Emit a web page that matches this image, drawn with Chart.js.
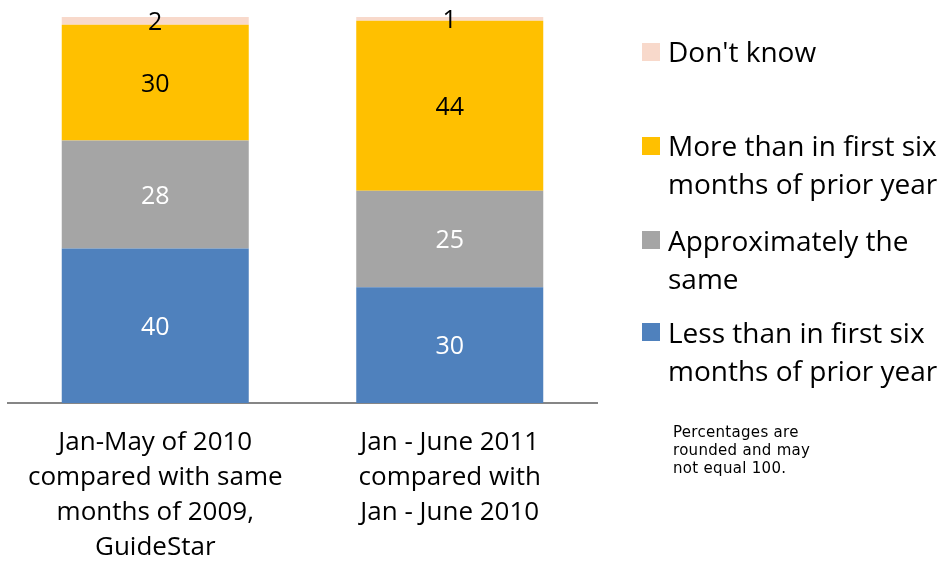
<!DOCTYPE html>
<html>
<head>
<meta charset="utf-8">
<script src="https://cdn.jsdelivr.net/npm/chart.js@4"></script>
<style>
  body { margin: 0; background: #fff; }
  #wrap { position: relative; width: 942px; height: 562px; font-family: "Open Sans", sans-serif; }
  canvas { position: absolute; left: 0; top: 0; }
  .key { position: absolute; left: 642px; width: 18px; height: 18px; }
  .txt { position: absolute; left: 668px; font-size: 28px; line-height: 38px; color: #000; white-space: nowrap; }
  .note { position: absolute; left: 673px; top: 423px; font-family: "DejaVu Sans", Verdana, sans-serif; font-size: 15px; letter-spacing: 0.3px; line-height: 18px; color: #000; white-space: nowrap; }
</style>
</head>
<body>
<div id="wrap">
  <canvas id="chart" width="942" height="562"></canvas>
  <div id="legend"></div>
  <div class="note">Percentages are<br>rounded and may<br>not equal 100.</div>
</div>
<script>
const categories = [
  ['Jan-May of 2010', 'compared with same', 'months of 2009,', 'GuideStar'],
  ['Jan - June 2011', 'compared with', 'Jan - June 2010']
];
const seriesNames = ['Less than in first six months of prior year', 'Approximately the same', 'More than in first six months of prior year', "Don't know"];
const lessValues = [40, 30];
const sameValues = [28, 25];
const moreValues = [30, 44];
const dontKnowValues = [2, 1];

const colors = ['#4F81BD', '#A5A5A5', '#FFC000', '#F8D9CB'];
const labelColors = ['#fff', '#fff', '#000', '#000'];
const font = '"Open Sans", sans-serif';

const valueLabels = {
  id: 'valueLabels',
  afterDatasetsDraw(chart) {
    const ctx = chart.ctx;
    ctx.save();
    ctx.font = '25px ' + font;
    ctx.textAlign = 'center';
    ctx.textBaseline = 'middle';
    chart.data.datasets.forEach((ds, i) => {
      chart.getDatasetMeta(i).data.forEach((bar, j) => {
        const p = bar.getProps(['x', 'y', 'base'], true);
        ctx.fillStyle = labelColors[i];
        ctx.fillText(ds.data[j], p.x, (p.y + p.base) / 2 + 2);
      });
    });
    ctx.restore();
  }
};

new Chart(document.getElementById('chart'), {
  type: 'bar',
  data: {
    labels: categories,
    datasets: [lessValues, sameValues, moreValues, dontKnowValues].map((d, i) => ({
      label: seriesNames[i],
      data: d,
      backgroundColor: colors[i],
      barPercentage: 0.635,
      categoryPercentage: 1
    }))
  },
  options: {
    responsive: false,
    animation: false,
    layout: { padding: { left: 8, right: 345, top: 17, bottom: 0 } },
    plugins: { legend: { display: false }, tooltip: { enabled: false } },
    scales: {
      x: {
        stacked: true,
        grid: { display: false, drawTicks: false },
        border: { color: '#868686', width: 2 },
        ticks: { color: '#000', font: { family: font, size: 26, lineHeight: '35px' }, padding: 22, maxRotation: 0 },
        afterFit(scale) { scale.height = 159; }
      },
      y: { stacked: true, display: false, min: 0, max: 100 }
    }
  },
  plugins: [valueLabels]
});

// legend, top to bottom
const legendItems = [
  { i: 3, lines: ["Don't know"], keyTop: 43, top: 32 },
  { i: 2, lines: ['More than in first six', 'months of prior year'], keyTop: 137, top: 126 },
  { i: 1, lines: ['Approximately the', 'same'], keyTop: 231, top: 221 },
  { i: 0, lines: ['Less than in first six', 'months of prior year'], keyTop: 323, top: 313 }
];
const legend = document.getElementById('legend');
legendItems.forEach(it => {
  const k = document.createElement('div');
  k.className = 'key';
  k.style.top = it.keyTop + 'px';
  k.style.background = colors[it.i];
  legend.appendChild(k);
  const t = document.createElement('div');
  t.className = 'txt';
  t.style.top = it.top + 'px';
  t.innerHTML = it.lines.join('<br>');
  legend.appendChild(t);
});
</script>
</body>
</html>
